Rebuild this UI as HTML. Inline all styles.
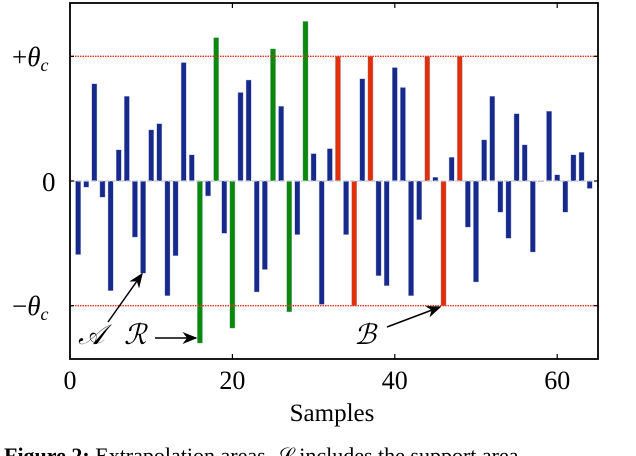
<!DOCTYPE html>
<html><head><meta charset="utf-8"><style>
html,body{margin:0;padding:0;background:#fff;width:636px;height:456px;overflow:hidden}
svg{display:block}
text{font-family:"Liberation Serif",serif;fill:#000}
</style></head><body>
<svg id="chart" width="636" height="456">
<g id="bars"></g>
</svg>
<script>
const samples=[];for(let i=1;i<=64;i++)samples.push(i);
const values=[-0.59,-0.05,0.78,-0.13,-0.88,0.25,0.68,-0.45,-0.74,0.41,0.46,-0.92,-0.60,0.95,0.21,-1.30,-0.12,1.15,-0.42,-1.18,0.71,0.81,-0.89,-0.71,1.06,0.60,-1.05,-0.43,1.28,0.22,-0.99,0.26,1.0,-0.43,-1.0,0.82,1.0,-0.76,-0.84,0.91,0.75,-0.92,-0.31,1.0,0.03,-1.0,0.19,1.0,-0.37,-0.81,0.33,0.68,-0.25,-0.46,0.54,0.29,-0.57,0.0,0.56,0.05,-0.25,0.21,0.23,-0.06];
const categories=["B","B","B","B","B","B","B","B","B","B","B","B","B","B","B","G","B","G","B","G","B","B","B","B","G","B","G","B","G","B","B","B","R","B","R","B","R","B","B","B","B","B","B","R","B","R","B","R","B","B","B","B","B","B","B","B","B","B","B","B","B","B","B","B"];
const xTicks=[0,20,40,60];
const theta=1;
const NS="http://www.w3.org/2000/svg";
const L=70,R=598,T=3,B=359,Y0=181,TH=124.7;
const xs=v=>L+v*8.12;
const ys=v=>Y0-v*TH;
const svg=document.getElementById('chart');
const gb=document.getElementById('bars');
function mk(tag,attrs,parent){const e=document.createElementNS(NS,tag);for(const k in attrs)e.setAttribute(k,attrs[k]);(parent||svg).appendChild(e);return e;}
[theta,-theta].forEach(t=>{
 const l=mk('line',{x1:L,x2:R,y1:ys(t),y2:ys(t),stroke:'#e8341c','stroke-width':1.3,'stroke-dasharray':'1.5,1'});
 
 
});
const zl=mk('line',{x1:L,x2:R,y1:Y0,y2:Y0,stroke:'#c8c8d8','stroke-width':1.2,'stroke-dasharray':'5,2'});


const col={B:'#172a8c',G:'#0a880a',R:'#e0300a'};
values.forEach((v,i)=>{
 const x=xs(samples[i]);const y1=ys(Math.max(v,0)),y2=ys(Math.min(v,0));
 const r=mk('rect',{x:x-2.6,y:y1,width:5.2,height:Math.max(y2-y1,0.8),fill:col[categories[i]],stroke:'#b8c0e0','stroke-width':0.4},gb);
 
 
});
const fr=mk('rect',{x:L,y:T,width:R-L,height:B-T,fill:'none',stroke:'#000','stroke-width':1.8});


xTicks.forEach(t=>{
 mk('line',{x1:xs(t),x2:xs(t),y1:B,y2:B-5,stroke:'#000','stroke-width':1.2});
 mk('line',{x1:xs(t),x2:xs(t),y1:T,y2:T+5,stroke:'#000','stroke-width':1.2});
 const tx=mk('text',{x:xs(t),y:389,'text-anchor':'middle','font-size':26});
 tx.textContent=t;
 
 
});
[theta,0,-theta].forEach(t=>{
 mk('line',{x1:L,x2:L+4,y1:ys(t),y2:ys(t),stroke:'#000','stroke-width':1.2});
 mk('line',{x1:R,x2:R-4,y1:ys(t),y2:ys(t),stroke:'#000','stroke-width':1.2});
});
</script>
<svg width="636" height="456" style="position:absolute;left:0;top:0">
<defs><marker id="ah" markerWidth="10" markerHeight="8" refX="9" refY="4" orient="auto"><path d="M0,0 L10,4 L0,8 L3,4 z" fill="#000"/></marker></defs>
<text x="12" y="66" font-size="27">+<tspan font-style="italic">θ</tspan><tspan font-size="18" dy="5" font-style="italic">c</tspan></text>
<text x="42" y="191" font-size="27">0</text>
<text x="12" y="315" font-size="27">−<tspan font-style="italic">θ</tspan><tspan font-size="18" dy="5" font-style="italic">c</tspan></text>
<line x1="108" y1="322" x2="142" y2="274" stroke="#000" stroke-width="1.5" marker-end="url(#ah)"/>
<text x="78" y="344" font-size="28" font-style="italic">𝒜</text>
<text x="124" y="344" font-size="28" font-style="italic">ℛ</text>
<line x1="155" y1="338" x2="196" y2="338" stroke="#000" stroke-width="1.5" marker-end="url(#ah)"/>
<text x="354" y="344" font-size="28" font-style="italic">ℬ</text>
<line x1="387" y1="327" x2="440" y2="307" stroke="#000" stroke-width="1.5" marker-end="url(#ah)"/>
<text x="332" y="421" font-size="25" text-anchor="middle">Samples</text>
<text x="4" y="463" font-size="22"><tspan font-weight="bold">Figure 2:</tspan> Extrapolation areas. 𝒮 includes the support area</text>
</svg>
</body></html>
